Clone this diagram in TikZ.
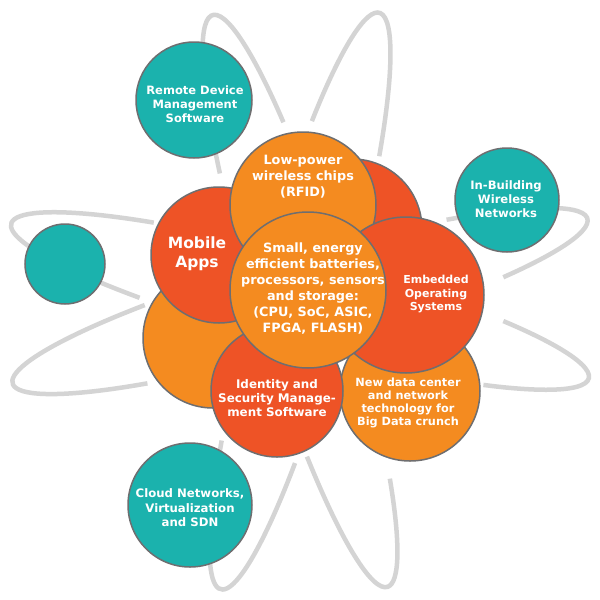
\documentclass[tikz,border=0pt]{standalone}
\usepackage{fontspec}
\setmainfont{DejaVu Sans}
\definecolor{cOrange}{HTML}{F48B20}
\definecolor{cRed}{HTML}{EE5326}
\definecolor{cTeal}{HTML}{1BB2AD}
\definecolor{cEdge}{HTML}{6E6E70}
\definecolor{cOrbit}{HTML}{D4D4D4}
\newcommand\orbitlobe[3]{%
  \begin{scope}[shift={(300,-301)},rotate=#1]
    \draw[orbit] (#2:299 and 45) arc[start angle=#2,end angle=#3,x radius=299,y radius=45];
  \end{scope}}
\begin{document}
\begin{tikzpicture}[x=1pt,y=1pt,
  orbit/.style={draw=cOrbit, line width=4.5pt, line cap=butt},
  bubble/.style={circle, draw=cEdge, line width=1.5pt, inner sep=0pt},
  tealb/.style={bubble, fill=cTeal},
  orngb/.style={bubble, fill=cOrange},
  redb/.style={bubble, fill=cRed},
  txt/.style={text=white, align=center, inner sep=0pt}]
\fill[white] (0,0) rectangle (600,-600);
\useasboundingbox (0,0) rectangle (600,-600);
% orbits
\orbitlobe{-15}{122.7}{238.6}
\orbitlobe{-15}{-48.3}{47.6}
\orbitlobe{16}{120.2}{235.5}
\orbitlobe{16}{-47.5}{56.9}
\orbitlobe{107}{-54}{60.9}
\orbitlobe{107}{120.3}{229}
\orbitlobe{74.6}{-57.5}{53.8}
\orbitlobe{74.6}{121.3}{238.2}
% outer teal circles
\node[tealb, minimum size=116pt] (remote) at (194,-100) {};
\node[tealb, minimum size=104pt] (inb) at (507,-200) {};
\node[tealb, minimum size=80pt] (lteal) at (65,-264) {};
\node[tealb, minimum size=124pt] (cloud) at (190,-505) {};
% cluster
\node[orngb, minimum size=140pt] (lo) at (213,-338) {};
\node[redb, minimum size=140pt] (trr) at (352,-229) {};
\node[orngb, minimum size=140pt] (nd) at (410,-391) {};
\node[redb, minimum size=136pt] (mob) at (219,-255) {};
\node[orngb, minimum size=146pt] (lp) at (303,-205) {};
\node[redb, minimum size=156pt] (emb) at (406,-295) {};
\node[redb, minimum size=132pt] (idm) at (277,-391) {};
\node[orngb, minimum size=156pt] (ctr) at (308,-290) {};
% texts
\node[txt, font=\bfseries\fontsize{11.5}{14}\selectfont] (remoteT) at (195,-104) {Remote Device\\Management\\Software};
\node[txt, font=\bfseries\fontsize{11.6}{13.7}\selectfont] (inbT) at (506,-199) {In-Building\\Wireless\\Networks};
\node[txt, font=\bfseries\fontsize{11.7}{14.5}\selectfont] (cloudT) at (190,-508) {Cloud Networks,\\Virtualization\\and SDN};
\node[txt, font=\bfseries\fontsize{12.8}{16}\selectfont] (lpT) at (303,-177) {Low-power\\wireless chips\\(RFID)};
\node[txt, font=\bfseries\fontsize{15.5}{19}\selectfont] (mobT) at (197,-253.5) {Mobile\\Apps};
\node[txt, font=\bfseries\fontsize{11}{13.5}\selectfont] (embT) at (436,-294.5) {Embedded\\Operating\\Systems};
\node[txt, font=\bfseries\fontsize{11.9}{14}\selectfont] (idmT) at (277,-398) {Identity and\\Security Manage-\\ment Software};
\node[txt, font=\bfseries\fontsize{11.3}{13}\selectfont] (ndT) at (408,-403) {New data center\\and network\\technology for\\Big Data crunch};
\node[txt, font=\bfseries\fontsize{12.8}{16}\selectfont] (ctrT) at (313,-289) {Small, energy\\efficient batteries,\\processors, sensors\\and storage:\\(CPU, SoC, ASIC,\\FPGA, FLASH)};
\end{tikzpicture}
\end{document}
